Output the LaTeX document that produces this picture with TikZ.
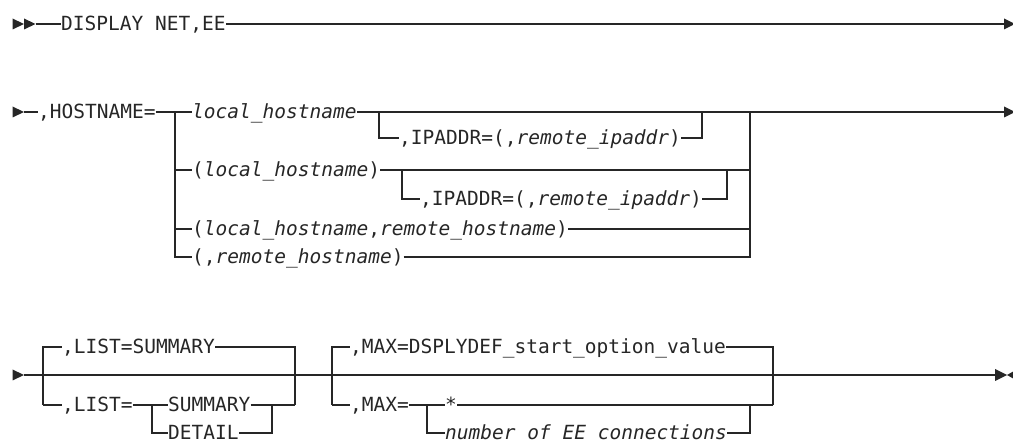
\documentclass[tikz,border=0pt]{standalone}
\usepackage{fontspec}
\setmonofont{DejaVu Sans Mono}
\definecolor{ink}{RGB}{38,38,38}
\begin{document}
\begin{tikzpicture}[x=1pt,y=-1pt,
  rr/.style={line width=1.2pt, draw=ink},
  lbl/.style={anchor=west, inner sep=0pt, text height=14pt, text depth=0pt,
    font=\ttfamily\fontsize{19.5}{20}\selectfont, text=ink},
  tip/.style={fill=ink, draw=none}]
\useasboundingbox (0,0) rectangle (1013,443);

% ---------- row 1 ----------
\fill[tip] (12.5,18.5) -- (24,24) -- (12.5,29.5) -- cycle;
\fill[tip] (24,18.5) -- (35.5,24) -- (24,29.5) -- cycle;
\coordinate (r1s) at (35.5,24);
\node[lbl] (disp) at (61,24) {DISPLAY NET,EE};
\coordinate (r1e) at (1004,24);
\fill[tip] (1004,18.5) -- (1015,24) -- (1004,29.5) -- cycle;
\draw[rr] (r1s) -- (disp.west);
\draw[rr] (disp.east) -- (r1e);

% ---------- row 2 ----------
\fill[tip] (12.5,106.5) -- (24,112) -- (12.5,117.5) -- cycle;
\coordinate (r2s) at (24,112);
\node[lbl] (host) at (38,112) {,HOSTNAME=};
\coordinate (hj1) at (175,112);
\coordinate (hj1b) at (175,257);
\node[lbl] (lh) at (192,112) {\textit{local\_hostname}};
\coordinate (ip1a) at (379,112);
\coordinate (ip1b) at (379,138);
\node[lbl] (ip1) at (399,138) {,IPADDR=(,\textit{remote\_ipaddr})};
\coordinate (ip1c) at (702,138);
\coordinate (ip1d) at (702,112);
\coordinate (hj2) at (750,112);
\coordinate (hj2b) at (750,257);
\coordinate (r2e) at (1004,112);
\fill[tip] (1004,106.5) -- (1015,112) -- (1004,117.5) -- cycle;

\node[lbl] (plh) at (192,170) {(\textit{local\_hostname})};
\coordinate (ip2a) at (402,170);
\coordinate (ip2b) at (402,199);
\node[lbl] (ip2) at (420,199) {,IPADDR=(,\textit{remote\_ipaddr})};
\coordinate (ip2c) at (727,199);
\coordinate (ip2d) at (727,170);
\node[lbl] (plr) at (192,229) {(\textit{local\_hostname},\textit{remote\_hostname})};
\node[lbl] (pr) at (192,257) {(,\textit{remote\_hostname})};

\draw[rr] (r2s) -- (host.west);
\draw[rr] (host.east) -- (lh.west);
\draw[rr] (lh.east) -- (r2e);
\draw[rr] (hj1) -- (hj1b) -- (pr.west);
\draw[rr] (hj1 |- plh) -- (plh.west);
\draw[rr] (hj1 |- plr) -- (plr.west);
\draw[rr] (ip1a) -- (ip1b) -- (ip1.west);
\draw[rr] (ip1.east) -- (ip1c) -- (ip1d);
\draw[rr] (plh.east) -- (hj2 |- plh);
\draw[rr] (ip2a) -- (ip2b) -- (ip2.west);
\draw[rr] (ip2.east) -- (ip2c) -- (ip2d);
\draw[rr] (plr.east) -- (hj2 |- plr);
\draw[rr] (pr.east) -- (hj2b) -- (hj2);

% ---------- row 3 ----------
\fill[tip] (12.5,369.5) -- (24,375) -- (12.5,380.5) -- cycle;
\coordinate (r3s) at (24,375);
\coordinate (r3e) at (995,375);
\fill[tip] (995,369) -- (1007,375) -- (995,381) -- cycle;
\fill[tip] (1007,375) -- (1014,371) -- (1014,379) -- cycle;

% LIST group
\coordinate (l1t) at (43,347);
\coordinate (l1b) at (43,405);
\coordinate (l2t) at (295,347);
\coordinate (l2b) at (295,405);
\node[lbl] (ls) at (62,347) {,LIST=SUMMARY};
\node[lbl] (leq) at (62,405) {,LIST=};
\coordinate (lj) at (152,405);
\coordinate (ljb) at (152,433);
\node[lbl] (lsum) at (168,405) {SUMMARY};
\node[lbl] (ldet) at (168,433) {DETAIL};
\coordinate (lk) at (272,405);
\coordinate (lkb) at (272,433);

% MAX group
\coordinate (m1t) at (332,347);
\coordinate (m1b) at (332,405);
\coordinate (m2t) at (773,347);
\coordinate (m2b) at (773,405);
\node[lbl] (ms) at (350,347) {,MAX=DSPLYDEF\_start\_option\_value};
\node[lbl] (meq) at (350,405) {,MAX=};
\coordinate (mj) at (427,405);
\coordinate (mjb) at (427,433);
\node[lbl] (mst) at (445,405) {*};
\node[lbl] (mnum) at (445,433) {\textit{number of EE connections}};
\coordinate (mk) at (750,405);
\coordinate (mkb) at (750,433);

\draw[rr] (r3s) -- (r3e);
\draw[line width=2pt, draw=ink] (780,375) -- (803,375);

\draw[rr] (l1b) -- (l1t) -- (ls.west);
\draw[rr] (ls.east) -- (l2t) -- (l2b);
\draw[rr] (l1b) -- (leq.west);
\draw[rr] (leq.east) -- (lj) -- (lsum.west);
\draw[rr] (lj) -- (ljb) -- (ldet.west);
\draw[rr] (ldet.east) -- (lkb) -- (lk);
\draw[rr] (lsum.east) -- (l2b);

\draw[rr] (m1b) -- (m1t) -- (ms.west);
\draw[rr] (ms.east) -- (m2t) -- (m2b);
\draw[rr] (m1b) -- (meq.west);
\draw[rr] (meq.east) -- (mj) -- (mst.west);
\draw[rr] (mj) -- (mjb) -- (mnum.west);
\draw[rr] (mnum.east) -- (mkb) -- (mk);
\draw[rr] (mst.east) -- (m2b);
\end{tikzpicture}
\end{document}
